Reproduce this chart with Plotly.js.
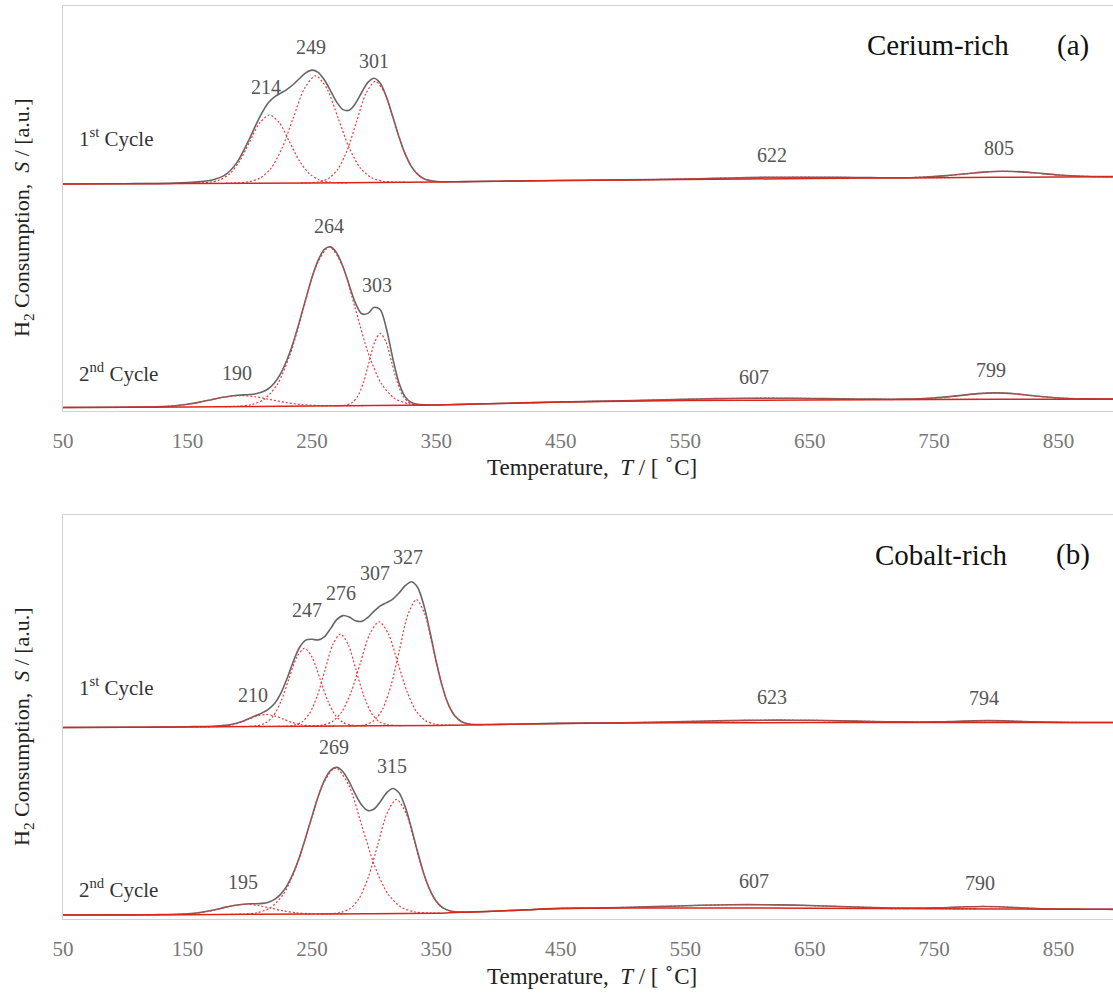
<!DOCTYPE html>
<html>
<head>
<meta charset="utf-8">
<script src="https://cdn.plot.ly/plotly-3.0.1.min.js"></script>
<style>
html, body { margin:0; padding:0; overflow:hidden; background:#fff; }
#chart { width:1200px; height:996px; }
</style>
</head>
<body>
<div id="chart"></div>
<script>
// ===================== DATA =====================
// Temperature axis ticks
const tickValues = [50, 150, 250, 350, 450, 550, 650, 750, 850];

// ---------- Panel (a) Cerium-rich, 1st cycle ----------
const ce1TotalT = [50,100,120,140,150,160,170,180,190,200,205,210,215,220,225,230,235,240,245,250,255,260,265,270,275,280,285,290,295,300,305,310,315,320,325,330,335,340,345,350,360,380,400,450,500,550,575,600,625,650,675,700,720,740,760,780,790,805,820,830,850,870,890,910,950];
const ce1Total = [227,227.3,227.4,227.9,228.5,229.4,231.0,235.8,248.9,272.5,286.1,298.4,308.3,314.2,317.9,321.7,326.5,332.5,338.2,340.9,338.7,331.2,320.1,308.7,301.4,300.8,307.5,318.5,328.6,332.8,327.7,313.6,294.3,274.0,256.9,244.4,236.6,232.3,230.4,229.5,229.2,229.5,229.8,230.5,231.1,232.0,232.7,233.4,233.75,233.8,233.6,233.35,233.2,233.8,235.4,237.8,238.9,239.7,239.1,238.2,236.0,234.7,234.4,234.4,234.5];
const ce1BaseT = [50,150,250,350,450,550,650,750,850,950];
const ce1Base = [227,227.5,228,229,230.5,231.5,232.5,233.3,234,234.5];
const ce1P214T = [152,160,168,176,184,192,200,208,216,224,232,240,248,256,264,272,280];
const ce1P214 = [228.0,228.2,228.8,231.0,237.2,250.1,269.2,288.0,296,288.0,269.2,250.1,237.2,231.0,228.8,228.2,228.0];
const ce1P249T = [181,190,199,208,217,226,235,244,253,262,271,280,289,298,307,316,325];
const ce1P249 = [227.93,228.14,229.14,232.7,242.5,262.8,293.0,322.5,335.15,322.6,293.2,263.0,242.9,233.2,229.8,228.94,228.78];
const ce1P301T = [241,248.5,256,263.5,271,278.5,286,293.5,301,308.5,316,323.5,331,338.5,346,353.5,361];
const ce1P301 = [228.13,228.32,229.32,232.65,242.0,261.2,289.75,317.6,329.6,317.8,290.05,261.65,242.6,233.4,230.17,229.32,229.23];
const ce1P622T = [472,497,522,547,572,597,622,647,672,697,722,747,772];
const ce1P622 = [230.72,231.04,231.4,231.96,232.61,233.29,233.7,233.79,233.61,233.39,233.3,233.37,233.52];
const ce1P805T = [715,730,745,760,775,790,805,820,835,850,865,880,895];
const ce1P805 = [233.1,233.4,234.1,235.3,237.1,238.9,239.7,239.1,237.5,236.0,234.9,234.4,234.3];
const ce1Peaks = [214, 249, 301, 622, 805];

// ---------- Panel (a) Cerium-rich, 2nd cycle ----------
const ce2TotalT = [50,100,110,120,130,140,150,160,170,180,190,200,205,210,215,220,225,230,235,240,245,250,255,260,265,270,275,280,285,290,295,300,305,310,315,320,325,330,335,340,345,350,360,380,400,450,500,550,575,600,625,650,675,700,725,750,770,785,799,815,830,850,870,900,950];
const ce2Total = [3.5,3.75,3.85,4.0,4.4,5.2,6.7,8.9,11.6,14.05,15.7,16.45,17.25,18.9,22.25,28.3,37.65,51.2,68.55,89.4,111.75,133.15,150.6,161.6,164.1,157.9,144.2,125.8,107.95,97.2,97.65,103.7,101.25,81.8,52.75,28.1,14.15,8.44,6.63,6.14,6.04,6.0,6.3,7.0,7.5,9.05,10.2,11.77,12.36,12.74,12.81,12.55,12.17,11.86,11.85,13.0,15.4,17.35,18.15,17.25,15.27,13.04,12.1,11.9,12.0];
const ce2BaseT = [50,150,250,350,400,450,550,650,750,850,950];
const ce2Base = [3.5,4,5,6,7.5,9,10.5,11,11.5,11.8,12];
const ce2P190T = [92,104.5,117,129.5,142,154.5,167,179.5,192,204.5,217,229.5,242,254.5,267,279.5,292];
const ce2P190 = [3.7,3.82,3.97,4.38,5.44,7.57,10.77,13.91,15.4,14.26,11.32,8.37,6.39,5.53,5.27,5.32,5.4];
const ce2P264T = [180,190.5,201,211.5,222,232.5,243,253.5,264,274.5,285,295.5,306,316.5,327,337.5,348];
const ce2P264 = [4.25,4.75,6.27,11.58,26.2,56.4,101.3,145.3,164.15,145.55,101.75,57.05,27.05,12.63,7.52,6.25,6.05];
const ce2P303T = [269,273.5,278,282.5,287,291.5,296,300.5,305,309.5,314,318.5,323,327.5,332,336.5,341];
const ce2P303 = [5.22,5.41,6.1,8.46,15.09,28.8,49.15,69.0,77.55,69.1,49.35,29.1,15.49,8.91,6.6,6.01,5.92];
const ce2P607T = [427,457,487,517,547,577,607,637,667,697,727,757,787];
const ce2P607 = [8.33,9.19,9.83,10.65,11.66,12.4,12.79,12.7,12.3,11.89,11.65,11.61,11.63];
const ce2P799T = [715,729,743,757,771,785,799,813,827,841,855,869,883];
const ce2P799 = [11.47,11.74,12.36,13.62,15.5,17.35,18.15,17.44,15.68,13.88,12.7,12.14,11.95];
const ce2Peaks = [190, 264, 303, 607, 799];

// ---------- Panel (b) Cobalt-rich, 1st cycle ----------
const co1TotalT = [50,100,130,150,160,170,180,185,190,195,200,205,210,215,220,225,230,235,240,245,250,255,260,265,270,275,280,285,290,295,300,305,310,315,320,325,330,335,340,345,350,355,360,365,370,375,380,390,400,420,450,500,550,575,600,625,650,675,700,725,750,770,794,815,840,860,900,950];
const co1Total = [191.5,191.75,191.9,192.3,192.5,192.8,193.6,194.5,195.9,198.1,200.7,203.45,206.1,209.7,215.45,225.56,240.3,257.3,271.5,278.9,279.7,279.1,282.2,290.4,299.35,303.4,301.9,298.3,297.6,301.55,307.8,313.05,316.35,319.97,325.98,333.3,337.25,331.5,313.55,286.5,256.95,231.6,213.6,202.9,197.55,195.3,194.5,194.5,194.6,195.0,195.65,196.2,197.4,198.1,198.6,198.85,198.7,198.15,197.55,197.1,197.15,197.76,198.33,197.77,196.83,196.56,196.5,196.5];
const co1BaseT = [50,150,250,350,450,550,650,750,850,950];
const co1Base = [191.5,192,192.8,193.6,195.6,196.2,196.4,196.5,196.5,196.5];
const co1P210T = [157,164,171,178,185,192,199,206,213,220,227,234,241,248,255,262,269];
const co1P210 = [192.05,192.13,192.28,192.73,193.92,196.25,199.68,203.04,204.5,203.14,199.88,196.6,194.32,193.33,192.98,192.93,192.95];
const co1P247T = [194,200.25,206.5,212.75,219,225.25,231.5,237.75,244,250.25,256.5,262.75,269,275.25,281.5,287.75,294];
const co1P247 = [192.38,192.57,193.31,195.92,203.1,217.9,239.95,261.5,270.75,261.6,240.15,218.2,203.5,196.42,193.91,193.27,193.18];
const co1P276T = [223,229.25,235.5,241.75,248,254.25,260.5,266.75,273,279.25,285.5,291.75,298,304.25,310.5,316.75,323];
const co1P276 = [192.63,192.85,193.72,196.74,205.25,222.75,248.7,274.15,285.0,274.25,248.9,223.0,205.65,197.29,194.32,193.55,193.43];
const co1P307T = [244,251.5,259,266.5,274,281.5,289,296.5,304,311.5,319,326.5,334,341.5,349,356.5,364];
const co1P307 = [192.79,193.03,194.05,197.52,207.1,226.85,256.2,284.95,297.25,285.1,256.45,227.2,207.55,198.12,194.75,193.93,193.89];
const co1P327T = [280,286.75,293.5,300.25,307,313.75,320.5,327.25,334,340.75,347.5,354.25,361,367.75,374.5,381.25,388];
const co1P327 = [193.09,193.38,194.55,198.73,210.3,234.2,269.8,304.65,319.5,304.75,270.0,234.6,210.85,199.48,195.5,194.48,194.39];
const co1P623T = [443,473,503,533,563,593,623,653,683,713,743,773,803];
const co1P623 = [195.49,195.85,196.26,196.91,197.75,198.49,198.85,198.6,197.95,197.27,196.83,196.61,196.53];
const co1P794T = [719,731.5,744,756.5,769,781.5,794,806.5,819,831.5,844,856.5,869];
const co1P794 = [196.52,196.58,196.74,197.08,197.59,198.09,198.3,198.09,197.59,197.08,196.74,196.58,196.52];
const co1Peaks = [210, 247, 276, 307, 327, 623, 794];

// ---------- Panel (b) Cobalt-rich, 2nd cycle ----------
const co2TotalT = [50,100,120,130,140,150,160,170,180,190,200,205,210,215,220,225,230,235,240,245,250,255,260,265,270,275,280,285,290,295,300,305,310,315,320,325,330,335,340,345,350,355,360,365,370,380,400,425,450,475,500,525,550,575,600,625,650,675,700,725,750,765,777.5,790,802.5,815,840,870,900,950];
const co2Total = [4,4.15,4.2,4.5,4.7,5.3,6.55,8.7,11.65,14.07,15.2,15.25,15.6,16.85,19.6,24.85,33.45,45.9,62.1,81.5,102.3,122.2,138.4,148.7,151.6,147.3,137.15,124.6,113.9,108.45,110,117.35,126.1,130.5,126.15,112.1,90.55,66.75,45.1,28.55,17.6,11.4,8.5,7.24,6.93,7.1,8,9.3,10.63,10.98,11.56,12.34,13.3,14.04,14.39,14.15,13.46,12.5,11.56,10.93,11.09,11.74,12.32,12.57,12.2,11.46,10.18,9.79,9.65,9.5];
const co2BaseT = [50,150,250,350,360,380,400,450,550,650,750,850,950];
const co2Base = [4,4.3,5,5.8,6.2,7.1,8,10.5,11,10.8,10.2,9.8,9.5];
const co2P195T = [117,127,137,147,157,167,177,187,197,207,217,227,237,247,257,267,277];
const co2P195 = [4.2,4.27,4.36,4.74,5.7,7.65,10.52,13.32,14.6,13.47,10.77,8.05,6.2,5.39,5.16,5.12,5.2];
const co2P269T = [185,195.5,206,216.5,227,237.5,248,258.5,269,279.5,290,300.5,311,321.5,332,342.5,353];
const co2P269 = [4.55,4.92,6.27,11.16,24.55,52.3,93.6,133.85,151.15,134.05,93.9,52.8,25.25,11.96,7.27,6.07,5.95];
const co2P315T = [258,265.5,273,280.5,288,295.5,303,310.5,318,325.5,333,340.5,348,355.5,363,370.5,378];
const co2P315 = [5.09,5.35,6.47,10.25,20.7,42.35,74.65,106.1,119.55,106.2,74.85,42.7,21.2,11.0,7.62,6.9,7.04];
const co2P607T = [425,455,485,515,545,575,605,635,665,695,725,755,785];
const co2P607 = [9.29,10.68,11.17,12.0,13.1,14.05,14.39,13.92,12.8,11.67,10.82,10.32,10.1];
const co2P790T = [715,727.5,740,752.5,765,777.5,790,802.5,815,827.5,840,852.5,865];
const co2P790 = [10.44,10.45,10.6,11.0,11.64,12.26,12.54,12.2,11.46,10.7,10.18,9.9,9.78];
const co2Peaks = [195, 269, 315, 607, 790];

// ===================== STYLE / LAYOUT =====================
const FONT = 'Liberation Serif';
const TOTAL_LINE = {color:'#666666', width:1.6, shape:'spline', smoothing:0.8};
const COMP_LINE = {color:'#e83a36', width:1.2, dash:'2px,2px', shape:'spline', smoothing:0.8};
const BASE_LINE = {color:'#d9261c', width:1.5, shape:'spline', smoothing:0.6};

function tr(x, y, line, panel) {
  return {type:'scatter', mode:'lines', x:x, y:y, line:line, hoverinfo:'skip',
          xaxis: panel === 1 ? 'x' : 'x2', yaxis: panel === 1 ? 'y' : 'y2'};
}

const traces = [
  tr(ce1TotalT, ce1Total, TOTAL_LINE, 1),
  tr(ce2TotalT, ce2Total, TOTAL_LINE, 1),
  tr(ce1P214T, ce1P214, COMP_LINE, 1),
  tr(ce1P249T, ce1P249, COMP_LINE, 1),
  tr(ce1P301T, ce1P301, COMP_LINE, 1),
  tr(ce1P622T, ce1P622, COMP_LINE, 1),
  tr(ce1P805T, ce1P805, COMP_LINE, 1),
  tr(ce2P190T, ce2P190, COMP_LINE, 1),
  tr(ce2P264T, ce2P264, COMP_LINE, 1),
  tr(ce2P303T, ce2P303, COMP_LINE, 1),
  tr(ce2P607T, ce2P607, COMP_LINE, 1),
  tr(ce2P799T, ce2P799, COMP_LINE, 1),
  tr(ce1BaseT, ce1Base, BASE_LINE, 1),
  tr(ce2BaseT, ce2Base, BASE_LINE, 1),

  tr(co1TotalT, co1Total, TOTAL_LINE, 2),
  tr(co2TotalT, co2Total, TOTAL_LINE, 2),
  tr(co1P210T, co1P210, COMP_LINE, 2),
  tr(co1P247T, co1P247, COMP_LINE, 2),
  tr(co1P276T, co1P276, COMP_LINE, 2),
  tr(co1P307T, co1P307, COMP_LINE, 2),
  tr(co1P327T, co1P327, COMP_LINE, 2),
  tr(co1P623T, co1P623, COMP_LINE, 2),
  tr(co1P794T, co1P794, COMP_LINE, 2),
  tr(co2P195T, co2P195, COMP_LINE, 2),
  tr(co2P269T, co2P269, COMP_LINE, 2),
  tr(co2P315T, co2P315, COMP_LINE, 2),
  tr(co2P607T, co2P607, COMP_LINE, 2),
  tr(co2P790T, co2P790, COMP_LINE, 2),
  tr(co1BaseT, co1Base, BASE_LINE, 2),
  tr(co2BaseT, co2Base, BASE_LINE, 2)
];

// label anchor positions (layout only)
const ce1LabelPos = [[213,324],[249,364],[300,350],[620,256],[802,263]];
const ce2LabelPos = [[190,38],[264,185],[302,126],[605,34],[796,41]];
const co1LabelPos = [[203,224],[246,309],[273,326],[301,346],[327,362],[620,222],[790,221]];
const co2LabelPos = [[195,37],[268,172],[314,153],[605,38],[787,36]];

const annotations = [];
function peakLabels(vals, pos, panel) {
  vals.forEach((v, i) => annotations.push({
    text: String(v), x: pos[i][0], y: pos[i][1],
    xref: panel === 1 ? 'x' : 'x2', yref: panel === 1 ? 'y' : 'y2',
    showarrow:false, xanchor:'center', yanchor:'middle',
    font:{family:FONT, size:20, color:'#555'}
  }));
}
peakLabels(ce1Peaks, ce1LabelPos, 1);
peakLabels(ce2Peaks, ce2LabelPos, 1);
peakLabels(co1Peaks, co1LabelPos, 2);
peakLabels(co2Peaks, co2LabelPos, 2);

function txt(text, x, y, xref, yref, opts) {
  annotations.push(Object.assign({text, x, y, xref, yref, showarrow:false,
    xanchor:'center', yanchor:'middle', font:{family:FONT, size:21, color:'#333'}}, opts || {}));
}
// cycle labels
txt('1<sup>st</sup> Cycle', 61, 274, 'x', 'y', {xanchor:'left'});
txt('2<sup>nd</sup> Cycle', 61, 39, 'x', 'y', {xanchor:'left'});
txt('1<sup>st</sup> Cycle', 61, 232, 'x2', 'y2', {xanchor:'left'});
txt('2<sup>nd</sup> Cycle', 61, 30, 'x2', 'y2', {xanchor:'left'});
// panel titles
txt('Cerium-rich', 753.5, 366, 'x', 'y', {font:{family:FONT, size:29, color:'#111'}});
txt('(a)', 862, 366, 'x', 'y', {font:{family:FONT, size:29, color:'#111'}});
txt('Cobalt-rich', 756, 364, 'x2', 'y2', {font:{family:FONT, size:29, color:'#111'}});
txt('(b)', 862, 364, 'x2', 'y2', {font:{family:FONT, size:29, color:'#111'}});
// axis titles
const xTitle = 'Temperature,  <i>T</i> / [ <sup>∘</sup>C]';
const yTitle = 'H<sub>2</sub> Consumption,  <i>S</i> / [a.u.]';
txt(xTitle, 475, 0.497, 'x', 'paper', {font:{family:FONT, size:23, color:'#222'}});
txt(xTitle, 475, -0.0613, 'x2', 'paper', {font:{family:FONT, size:23, color:'#222'}});
txt(yTitle, -0.0357, 0.7678, 'paper', 'paper', {textangle:-90, font:{family:FONT, size:22, color:'#222'}});
txt(yTitle, -0.0357, 0.2103, 'paper', 'paper', {textangle:-90, font:{family:FONT, size:22, color:'#222'}});

const xAxisBase = {
  range:[50,950], tickmode:'array', tickvals:tickValues, ticktext:tickValues.map(String),
  showline:true, mirror:true, linecolor:'#d2d2d2', linewidth:1,
  showgrid:false, zeroline:false, ticks:'outside', ticklen:11, tickcolor:'rgba(0,0,0,0)',
  tickfont:{family:FONT, size:21, color:'#777'}, fixedrange:true
};
const yAxisBase = {
  showline:true, mirror:true, linecolor:'#d2d2d2', linewidth:1,
  showgrid:false, zeroline:false, showticklabels:false, ticks:'', fixedrange:true
};

const layout = {
  width:1200, height:996,
  margin:{l:63, r:16.5, t:6, b:77},
  paper_bgcolor:'#fff', plot_bgcolor:'#fff', showlegend:false,
  font:{family:FONT, size:20, color:'#555'},
  xaxis: Object.assign({}, xAxisBase, {anchor:'y', domain:[0,1]}),
  xaxis2: Object.assign({}, xAxisBase, {anchor:'y2', domain:[0,1]}),
  yaxis: Object.assign({}, yAxisBase, {anchor:'x', domain:[0.5564,1], range:[0,405]}),
  yaxis2: Object.assign({}, yAxisBase, {anchor:'x2', domain:[0,0.4425], range:[0,404]}),
  annotations: annotations
};

Plotly.newPlot('chart', traces, layout, {staticPlot:true, displayModeBar:false});
</script>
</body>
</html>
